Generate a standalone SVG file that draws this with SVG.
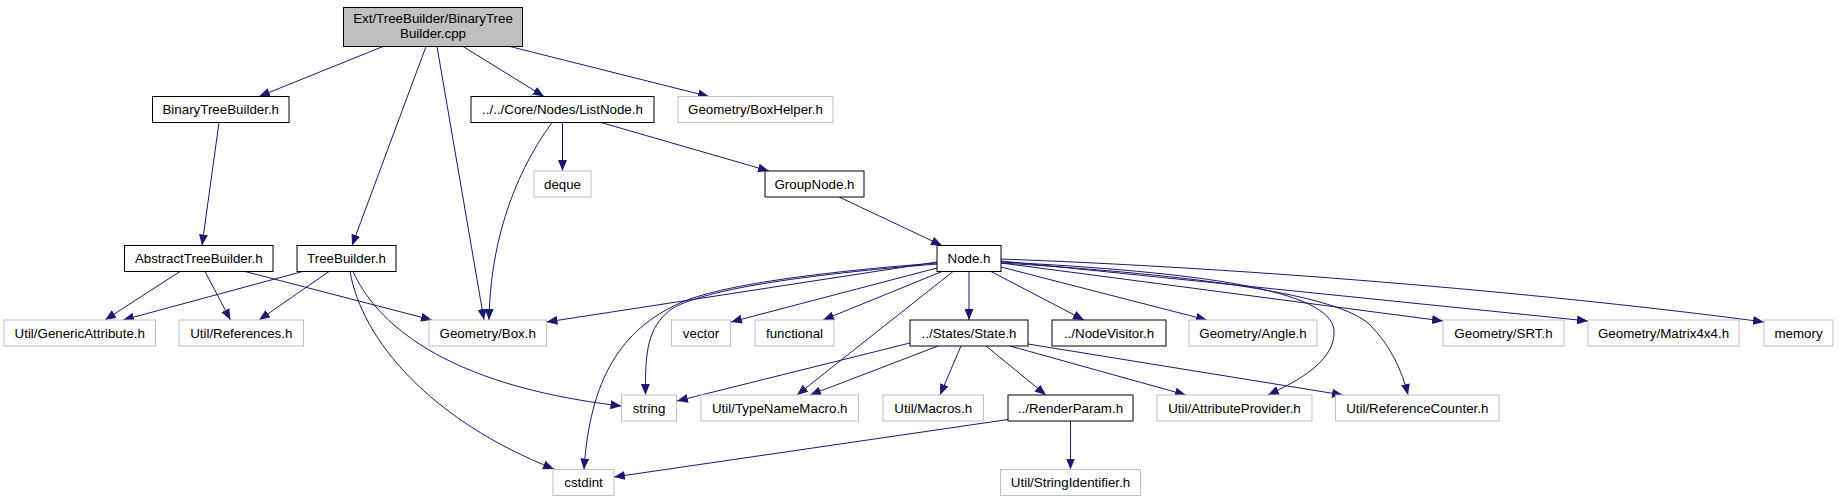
<svg xmlns="http://www.w3.org/2000/svg" width="1839" height="501" viewBox="0 0 1839 501">
<defs>
<marker id="arr" markerUnits="userSpaceOnUse" markerWidth="11" markerHeight="9" viewBox="0 0 11 9" refX="11" refY="4.5" orient="auto">
<path d="M0,0 L11,4.5 L0,9 z" fill="#191970"/>
</marker>
<style>
.n rect{fill:#fff;stroke:#000;stroke-width:1}
.g rect{fill:#fff;stroke:#bfbfbf;stroke-width:1}
.r rect{fill:#bfbfbf;stroke:#000;stroke-width:1}
text{font-family:"Liberation Sans",Arial,Helvetica,sans-serif;font-size:13.33px;fill:#000;text-anchor:middle}
#edges path{fill:none;stroke:#191970;stroke-width:1;marker-end:url(#arr)}
</style>
</defs>
<rect width="1839" height="501" fill="#fff"/>
<g id="edges">
<path d="M383,46.5 L259,96.5"/>
<path d="M426,46.5 L352,245.5"/>
<path d="M437,46.5 L484,320"/>
<path d="M463,46.5 L544,96.5"/>
<path d="M510,46.5 L709,96.5"/>
<path d="M219,122.5 L202,245.5"/>
<path d="M562.5,122.5 L562.5,171"/>
<path d="M552,122.5 C510,180 490,250 489,320"/>
<path d="M601,122.5 L769,171"/>
<path d="M839,197 L942,245.5"/>
<path d="M180,271.5 L105,320"/>
<path d="M205,271.5 L230.5,320"/>
<path d="M245,271.5 L432,320"/>
<path d="M302.5,271.5 L123,320"/>
<path d="M329,271.5 L259,320"/>
<path d="M350,271.5 C362,340 430,420 554,469"/>
<path d="M353,271.5 C375,320 440,385 621.5,406"/>
<path d="M937,262 L546.5,322"/>
<path d="M937,263 C820,272 720,285 680,303 C620,330 590,380 584,469.5"/>
<path d="M937,264 C800,275 700,290 670,310 C648,328 645,350 645.5,395"/>
<path d="M937,268 L731,322"/>
<path d="M942,271.5 L823,320"/>
<path d="M953,271.5 L797,395"/>
<path d="M969,271.5 L969,320"/>
<path d="M991,271.5 L1084,320"/>
<path d="M1001,267 L1207,320"/>
<path d="M1001,263 L1443,321"/>
<path d="M1001,261 L1588,321"/>
<path d="M1001,259 C1300,270 1600,300 1764,322"/>
<path d="M1001,262 C1200,272 1330,290 1334,330 C1336,360 1300,380 1268,395"/>
<path d="M1001,263 C1200,275 1340,295 1370,325 C1390,345 1402,370 1408,395"/>
<path d="M910,343 L677,401"/>
<path d="M938,346 L810,395"/>
<path d="M961,346 L940,395"/>
<path d="M986,346 L1046,395"/>
<path d="M1010,346 L1186,395"/>
<path d="M1028,344 L1343,395"/>
<path d="M1008,419.5 L614,477"/>
<path d="M1070.5,421 L1070.5,469.5"/>
</g>
<g id="root" class="r"><rect x="343.5" y="7.5" width="179" height="39"/><text x="433" y="23">Ext/TreeBuilder/BinaryTree</text><text x="433" y="38">Builder.cpp</text></g>
<g id="binarytreebuilder" class="n"><rect x="152.5" y="96.5" width="136.5" height="26"/><text x="220.75" y="114">BinaryTreeBuilder.h</text></g>
<g id="listnode" class="n"><rect x="471" y="96.5" width="183" height="26"/><text x="562.5" y="114">../../Core/Nodes/ListNode.h</text></g>
<g id="boxhelper" class="g"><rect x="678" y="96.5" width="155" height="26"/><text x="755.5" y="114">Geometry/BoxHelper.h</text></g>
<g id="deque" class="g"><rect x="534" y="171" width="57" height="26"/><text x="562.5" y="188.5">deque</text></g>
<g id="groupnode" class="n"><rect x="765" y="171" width="99" height="26"/><text x="814.5" y="188.5">GroupNode.h</text></g>
<g id="abstracttreebuilder" class="n"><rect x="124.5" y="245.5" width="148.5" height="26"/><text x="198.75" y="263">AbstractTreeBuilder.h</text></g>
<g id="treebuilder" class="n"><rect x="297" y="245.5" width="99" height="26"/><text x="346.5" y="263">TreeBuilder.h</text></g>
<g id="node" class="n"><rect x="937" y="245.5" width="64" height="26"/><text x="969" y="263">Node.h</text></g>
<g id="genericattribute" class="g"><rect x="4" y="320" width="151.5" height="26"/><text x="79.75" y="337.5">Util/GenericAttribute.h</text></g>
<g id="references" class="g"><rect x="179" y="320" width="124.5" height="26"/><text x="241.25" y="337.5">Util/References.h</text></g>
<g id="box" class="g"><rect x="429" y="320" width="117.5" height="26"/><text x="487.75" y="337.5">Geometry/Box.h</text></g>
<g id="vector" class="g"><rect x="671.5" y="320" width="59" height="26"/><text x="701" y="337.5">vector</text></g>
<g id="functional" class="g"><rect x="755" y="320" width="79" height="26"/><text x="794.5" y="337.5">functional</text></g>
<g id="state" class="n"><rect x="910" y="320" width="118" height="26"/><text x="969" y="337.5">../States/State.h</text></g>
<g id="nodevisitor" class="n"><rect x="1052" y="320" width="114" height="26"/><text x="1109" y="337.5">../NodeVisitor.h</text></g>
<g id="angle" class="g"><rect x="1189" y="320" width="128" height="26"/><text x="1253" y="337.5">Geometry/Angle.h</text></g>
<g id="srt" class="g"><rect x="1443" y="320" width="121" height="26"/><text x="1503.5" y="337.5">Geometry/SRT.h</text></g>
<g id="matrix" class="g"><rect x="1588" y="320" width="151" height="26"/><text x="1663.5" y="337.5">Geometry/Matrix4x4.h</text></g>
<g id="memory" class="g"><rect x="1764" y="320" width="69" height="26"/><text x="1798.5" y="337.5">memory</text></g>
<g id="string" class="g"><rect x="621.5" y="395" width="55" height="26"/><text x="649" y="412.5">string</text></g>
<g id="typenamemacro" class="g"><rect x="701" y="395" width="157.5" height="26"/><text x="779.75" y="412.5">Util/TypeNameMacro.h</text></g>
<g id="macros" class="g"><rect x="883" y="395" width="100.5" height="26"/><text x="933.25" y="412.5">Util/Macros.h</text></g>
<g id="renderparam" class="n"><rect x="1008" y="395" width="125" height="26"/><text x="1070.5" y="412.5">../RenderParam.h</text></g>
<g id="attributeprovider" class="g"><rect x="1157" y="395" width="155" height="26"/><text x="1234.5" y="412.5">Util/AttributeProvider.h</text></g>
<g id="referencecounter" class="g"><rect x="1335.5" y="395" width="163.5" height="26"/><text x="1417.25" y="412.5">Util/ReferenceCounter.h</text></g>
<g id="cstdint" class="g"><rect x="553" y="469.5" width="61" height="26"/><text x="583.5" y="487">cstdint</text></g>
<g id="stringidentifier" class="g"><rect x="1000.5" y="469.5" width="140" height="26"/><text x="1070.5" y="487">Util/StringIdentifier.h</text></g>
</svg>
